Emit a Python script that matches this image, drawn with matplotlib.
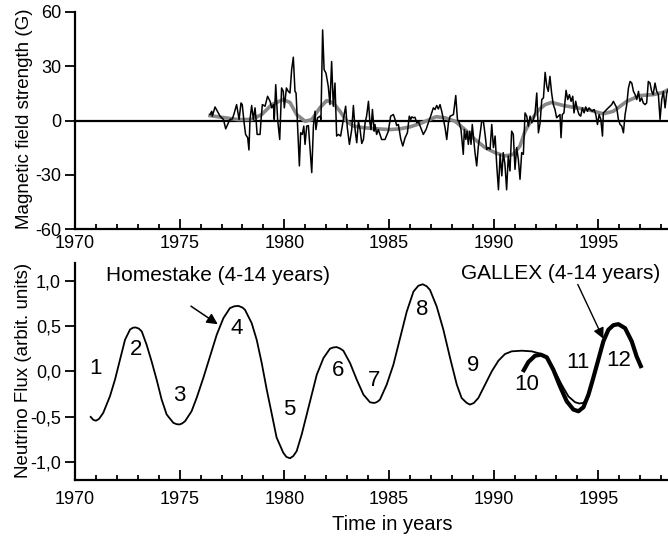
import matplotlib
matplotlib.use('Agg')
import matplotlib.pyplot as plt
from matplotlib.ticker import MultipleLocator, FixedLocator, FixedFormatter

plt.rcParams['font.family'] = ['Liberation Sans', 'DejaVu Sans']
plt.rcParams['axes.unicode_minus'] = False

# ---------------- data ----------------
mag_years = [1976.45, 1976.53, 1976.56, 1976.69, 1976.93, 1977.09, 1977.20, 1977.29, 1977.40, 1977.52,
             1977.61, 1977.72, 1977.84, 1977.93, 1977.99, 1978.07, 1978.15, 1978.25, 1978.31, 1978.36,
             1978.44, 1978.52, 1978.60, 1978.65, 1978.70, 1978.84, 1978.89, 1978.95, 1979.08, 1979.20,
             1979.32, 1979.40, 1979.48, 1979.52, 1979.59, 1979.68, 1979.78, 1979.87, 1979.95, 1980.00,
             1980.10, 1980.19, 1980.27, 1980.35, 1980.43, 1980.51, 1980.56, 1980.62, 1980.72, 1980.78,
             1980.86, 1980.93, 1980.99, 1981.07, 1981.15, 1981.31, 1981.39, 1981.47, 1981.51, 1981.59,
             1981.71, 1981.75, 1981.83, 1981.90, 1981.99, 1982.10, 1982.18, 1982.26, 1982.34, 1982.42,
             1982.50, 1982.58, 1982.69, 1982.82, 1982.93, 1983.01, 1983.11, 1983.22, 1983.30, 1983.38,
             1983.46, 1983.54, 1983.62, 1983.70, 1983.78, 1983.86, 1983.93, 1984.02, 1984.09, 1984.14,
             1984.21, 1984.29, 1984.33, 1984.41, 1984.49, 1984.57, 1984.65, 1984.81, 1984.97, 1985.08,
             1985.21, 1985.29, 1985.37, 1985.45, 1985.56, 1985.66, 1985.77, 1985.88, 1985.97, 1986.04,
             1986.09, 1986.16, 1986.24, 1986.33, 1986.40, 1986.52, 1986.64, 1986.77, 1986.88, 1986.99,
             1987.12, 1987.20, 1987.28, 1987.36, 1987.44, 1987.52, 1987.60, 1987.68, 1987.76, 1987.84,
             1987.92, 1988.00, 1988.08, 1988.19, 1988.27, 1988.35, 1988.44, 1988.55, 1988.60, 1988.67,
             1988.73, 1988.79, 1988.86, 1988.92, 1988.98, 1989.05, 1989.11, 1989.19, 1989.27, 1989.35,
             1989.43, 1989.51, 1989.59, 1989.67, 1989.75, 1989.83, 1989.91, 1989.99, 1990.07, 1990.15,
             1990.23, 1990.31, 1990.39, 1990.46, 1990.54, 1990.62, 1990.70, 1990.78, 1990.86, 1990.94,
             1991.02, 1991.10, 1991.18, 1991.26, 1991.34, 1991.42, 1991.50, 1991.58, 1991.66, 1991.74,
             1991.82, 1991.90, 1991.98, 1992.06, 1992.14, 1992.22, 1992.30, 1992.38, 1992.46, 1992.54,
             1992.61, 1992.69, 1992.77, 1992.85, 1992.93, 1993.01, 1993.09, 1993.17, 1993.22, 1993.28,
             1993.36, 1993.46, 1993.54, 1993.62, 1993.70, 1993.78, 1993.84, 1993.92, 1994.00, 1994.08,
             1994.16, 1994.24, 1994.32, 1994.40, 1994.48, 1994.56, 1994.64, 1994.72, 1994.80, 1994.88,
             1994.96, 1995.04, 1995.12, 1995.20, 1995.24, 1995.32, 1995.40, 1995.48, 1995.56, 1995.64,
             1995.72, 1995.80, 1995.88, 1995.96, 1996.04, 1996.12, 1996.20, 1996.28, 1996.36, 1996.44,
             1996.52, 1996.60, 1996.68, 1996.76, 1996.84, 1996.92, 1996.99, 1997.07, 1997.15, 1997.23,
             1997.31, 1997.39, 1997.47, 1997.55, 1997.62, 1997.71, 1997.79, 1997.87, 1997.95, 1998.03,
             1998.11, 1998.19, 1998.27, 1998.33]
mag_values = [3.3, 5.1, 2.4, 7.5, 2.4, 0.6, -4.6, -2.2, 0.6, 0.9,
              4.2, 8.8, 0.6, 9.7, 8.8, -0.4, -7.7, -9.5, -16.3, 0.6,
              8.3, 0.6, 7.0, 0.6, -7.7, -7.7, 0.6, 8.8, 7.9, 13.4,
              10.6, 7.0, 8.8, 0.6, 19.8, 0.6, -10.5, 18.0, 16.1, 7.0,
              18.0, 16.1, 15.2, 28.1, 35.0, 16.1, 15.2, 0.6, -25.1, -6.8,
              -7.7, -3.1, -13.2, -3.1, -2.8, -28.8, -3.1, 5.1, -5.0, 1.5,
              2.4, 0.6, 50.1, 28.1, 26.2, 18.9, 8.8, 32.6, 7.9, 20.7,
              -8.6, -7.7, -8.6, 0.6, 7.9, -4.0, -13.2, -5.0, 8.3, -5.0,
              -12.3, -0.4, -5.0, -12.7, -10.5, -1.3, 2.4, 10.6, -1.3, -5.0,
              6.1, -5.9, -2.2, -7.7, -5.0, -7.7, -10.5, -10.5, -5.9, 2.4,
              3.3, 0.6, -2.8, -2.2, -10.1, -14.1, -9.5, -6.8, 2.4, 0.6,
              2.0, 1.5, 1.8, -1.3, -0.4, -4.0, -7.7, -5.0, -1.3, 2.4,
              7.0, 6.1, 8.3, 6.4, 8.8, 5.1, 0.6, -4.0, -10.5, -1.3,
              2.4, 2.8, 3.3, 13.8, 0.6, -0.9, -5.0, -18.7, -5.0, -10.5,
              -5.9, -13.2, -5.9, -13.2, -2.2, -10.5, -17.8, -25.1, -14.1, -7.7,
              -0.4, -0.4, -7.7, -16.0, -15.0, -16.0, -2.2, -15.0, -8.6, -25.1,
              -38.3, -18.7, -30.6, -17.8, -24.2, -38.3, -19.6, -27.9, -5.9, -7.7,
              -27.0, -15.0, -21.5, -32.5, -17.8, -18.7, 4.2, 2.4, -3.1, 2.4,
              -1.3, 0.6, 4.2, 15.2, -6.8, -1.3, 11.6, 12.5, 26.6, 18.9,
              16.1, 24.4, 15.2, 8.8, 6.1, 1.5, 2.4, 3.3, -9.5, 3.3,
              4.2, 16.7, 11.6, 14.3, 10.6, 13.4, 4.2, 10.6, 6.1, 3.3,
              2.4, 7.0, 4.2, 7.5, 5.1, 7.0, 5.7, 5.1, 6.1, 3.3,
              -2.2, 3.3, 0.6, -8.6, 4.2, 5.1, 6.1, 7.0, 7.9, 8.8,
              10.6, 8.8, 7.0, 0.6, -2.2, -3.1, -6.8, 3.3, 8.8, 18.0,
              21.6, 20.7, 16.1, 14.3, 11.6, 16.1, 10.6, 12.5, 9.7, 8.8,
              9.7, 21.6, 20.7, 16.1, 14.3, 20.7, 16.1, 14.3, 0.6, 11.6,
              16.1, 7.0, 15.2, 17.0]

smooth_years = [1976.45, 1977.17, 1977.80, 1978.44, 1978.92, 1979.40, 1979.95, 1980.27, 1980.59, 1980.99,
                1981.31, 1981.70, 1982.02, 1982.34, 1982.66, 1982.98, 1983.30, 1983.78, 1984.41, 1985.05,
                1985.53, 1986.01, 1986.48, 1986.96, 1987.25, 1987.68, 1988.16, 1988.63, 1989.11, 1989.59,
                1990.07, 1990.54, 1990.94, 1991.26, 1991.50, 1991.82, 1992.14, 1992.46, 1992.77, 1993.33,
                1993.97, 1994.60, 1995.24, 1995.72, 1996.36, 1996.99, 1997.63, 1998.11, 1998.33]
smooth_values = [2.7, 1.5, 0.5, 0.6, 3.3, 8.8, 11.6, 10.0, 3.3, -0.4,
                 0.5, 7.0, 11.0, 9.7, 5.1, -0.4, -3.1, -4.0, -4.6, -5.0,
                 -4.6, -3.5, -1.7, 0.6, 2.1, 1.5, -0.4, -5.0, -10.5, -15.0,
                 -17.8, -19.6, -18.7, -14.1, -5.9, 0.6, 5.7, 8.8, 10.0, 8.3,
                 7.0, 5.7, 3.7, 5.1, 10.6, 13.8, 14.3, 15.6, 17.0]

home_years = [1970.75, 1970.87, 1971.00, 1971.15, 1971.35, 1971.67, 1971.91, 1972.15, 1972.39, 1972.63,
              1972.77, 1972.90, 1973.05, 1973.19, 1973.42, 1973.66, 1973.90, 1974.14, 1974.38, 1974.70,
              1974.85, 1974.99, 1975.12, 1975.26, 1975.57, 1975.81, 1976.13, 1976.45, 1976.77, 1977.09,
              1977.40, 1977.60, 1977.80, 1978.00, 1978.12, 1978.44, 1978.68, 1978.92, 1979.16, 1979.40,
              1979.63, 1979.95, 1980.10, 1980.27, 1980.43, 1980.59, 1980.83, 1981.07, 1981.31, 1981.55,
              1981.87, 1982.18, 1982.34, 1982.50, 1982.66, 1982.82, 1983.14, 1983.46, 1983.78, 1984.09,
              1984.21, 1984.33, 1984.45, 1984.57, 1984.89, 1985.21, 1985.53, 1985.85, 1986.17, 1986.40,
              1986.61, 1986.80, 1986.96, 1987.28, 1987.60, 1987.92, 1988.24, 1988.47, 1988.71, 1988.87,
              1989.05, 1989.27, 1989.59, 1989.91, 1990.23, 1990.54, 1990.86, 1991.34, 1991.82, 1992.30,
              1992.61, 1992.93, 1993.25, 1993.57, 1993.89, 1994.10, 1994.29, 1994.53]
home_values = [-0.503, -0.535, -0.545, -0.525, -0.458, -0.275, -0.092, 0.129, 0.349, 0.462,
               0.482, 0.485, 0.472, 0.441, 0.294, 0.110, -0.092, -0.312, -0.477, -0.569,
               -0.583, -0.587, -0.575, -0.550, -0.440, -0.294, -0.073, 0.165, 0.404, 0.588,
               0.698, 0.718, 0.723, 0.705, 0.680, 0.533, 0.349, 0.092, -0.202, -0.470,
               -0.730, -0.899, -0.945, -0.960, -0.935, -0.881, -0.697, -0.477, -0.257, -0.037,
               0.147, 0.250, 0.264, 0.268, 0.253, 0.228, 0.092, -0.092, -0.257, -0.341,
               -0.347, -0.348, -0.335, -0.312, -0.147, 0.073, 0.367, 0.661, 0.881, 0.945,
               0.962, 0.940, 0.899, 0.716, 0.459, 0.147, -0.147, -0.294, -0.348, -0.367,
               -0.350, -0.294, -0.147, 0.000, 0.118, 0.191, 0.221, 0.228, 0.221, 0.191,
               0.129, 0.000, -0.147, -0.276, -0.341, -0.355, -0.348, -0.276]

gallex_years = [1991.39, 1991.66, 1991.98, 1992.26, 1992.54, 1992.85, 1993.17, 1993.49, 1993.81, 1994.05,
                1994.29, 1994.53, 1994.76, 1995.00, 1995.24, 1995.48, 1995.72, 1995.96, 1996.28, 1996.60,
                1996.83, 1997.07]
gallex_values = [-0.007, 0.103, 0.173, 0.184, 0.155, 0.019, -0.165, -0.330, -0.422, -0.441,
                 -0.396, -0.257, -0.073, 0.128, 0.330, 0.459, 0.510, 0.521, 0.477, 0.330,
                 0.165, 0.037]

cycle_labels = ['1', '2', '3', '4', '5', '6', '7', '8', '9', '10', '11', '12']
cycle_x = [1970.96, 1972.90, 1974.97, 1977.72, 1980.24, 1982.55, 1984.30, 1986.60, 1989.03, 1991.58, 1994.05, 1995.99]
cycle_y = [0.026, 0.24, -0.27, 0.47, -0.42, 0.01, -0.10, 0.68, 0.07, -0.146, 0.10, 0.118]

year_ticks = [1970, 1975, 1980, 1985, 1990, 1995]
mag_ticks = [-60, -30, 0, 30, 60]
flux_ticks = [-1.0, -0.5, 0.0, 0.5, 1.0]
flux_tick_labels = ['-1,0', '-0,5', '0,0', '0,5', '1,0']

# ---------------- figure ----------------
W, H = 668, 548
fig = plt.figure(figsize=(W / 100, H / 100), dpi=100)
ax1 = fig.add_axes([75 / W, 1 - 229 / H, 593 / W, 217 / H])
ax2 = fig.add_axes([75 / W, 1 - 480 / H, 593 / W, 217.3 / H])

for ax in (ax1, ax2):
    ax.set_xlim(1970, 1998.33)
    for s in ('top', 'right'):
        ax.spines[s].set_visible(False)
    for s in ('left', 'bottom'):
        ax.spines[s].set_linewidth(1.6)
    ax.xaxis.set_major_locator(FixedLocator(year_ticks))
    ax.xaxis.set_minor_locator(MultipleLocator(1))
    ax.tick_params(axis='x', which='major', direction='in', length=7, width=1.3, labelsize=13)
    ax.tick_params(axis='x', which='minor', direction='in', length=3.8, width=1.3)
    ax.tick_params(axis='y', which='major', direction='out', length=7, width=1.3, labelsize=13, pad=3)
    ax.patch.set_alpha(0)

ax1.tick_params(axis='x', which='major', pad=4.5)
ax2.tick_params(axis='x', which='major', pad=8)

# top panel
ax1.set_ylim(-60, 60)
ax1.yaxis.set_major_locator(FixedLocator(mag_ticks))
ax1.axhline(0, color='black', lw=1.6, zorder=1)
ax1.plot(smooth_years, smooth_values, color='#888888', lw=2.6, zorder=2, solid_joinstyle='round')
ax1.plot(mag_years, mag_values, color='black', lw=1.1, zorder=3)

# bottom panel
ax2.set_ylim(-1.2, 1.2)
ax2.yaxis.set_major_locator(FixedLocator(flux_ticks))
ax2.yaxis.set_major_formatter(FixedFormatter(flux_tick_labels))
ax2.plot(home_years, home_values, color='black', lw=1.3, solid_joinstyle='round')
ax2.plot(gallex_years, gallex_values, color='black', lw=3.0, solid_joinstyle='round', solid_capstyle='butt')

for lab, x, y in zip(cycle_labels, cycle_x, cycle_y):
    ax2.text(x, y, lab, fontsize=16, ha='center', va='center')

ax2.text(1971.5, 1.057, 'Homestake (4-14 years)', fontsize=15, ha='left', va='center')
ax2.text(1988.43, 1.084, 'GALLEX (4-14 years)', fontsize=15, ha='left', va='center')
ax2.annotate('', xy=(1976.82, 0.52), xytext=(1975.54, 0.72),
             arrowprops=dict(arrowstyle='-|>', color='black', lw=1.1, mutation_scale=16,
                             shrinkA=0, shrinkB=0))
ax2.annotate('', xy=(1995.24, 0.36), xytext=(1994.02, 0.96),
             arrowprops=dict(arrowstyle='-|>', color='black', lw=1.0, mutation_scale=16,
                             shrinkA=0, shrinkB=0))

fig.text(25 / W, 1 - 119 / H, 'Magnetic field strength (G)', rotation=90, fontsize=13.5,
         ha='center', va='center')
fig.text(24 / W, 1 - 370 / H, 'Neutrino Flux (arbit. units)', rotation=90, fontsize=13.5,
         ha='center', va='center')
fig.text(392 / W, 1 - 525 / H, 'Time in years', fontsize=14.5, ha='center', va='center')

fig.savefig('out.png', dpi=100)
